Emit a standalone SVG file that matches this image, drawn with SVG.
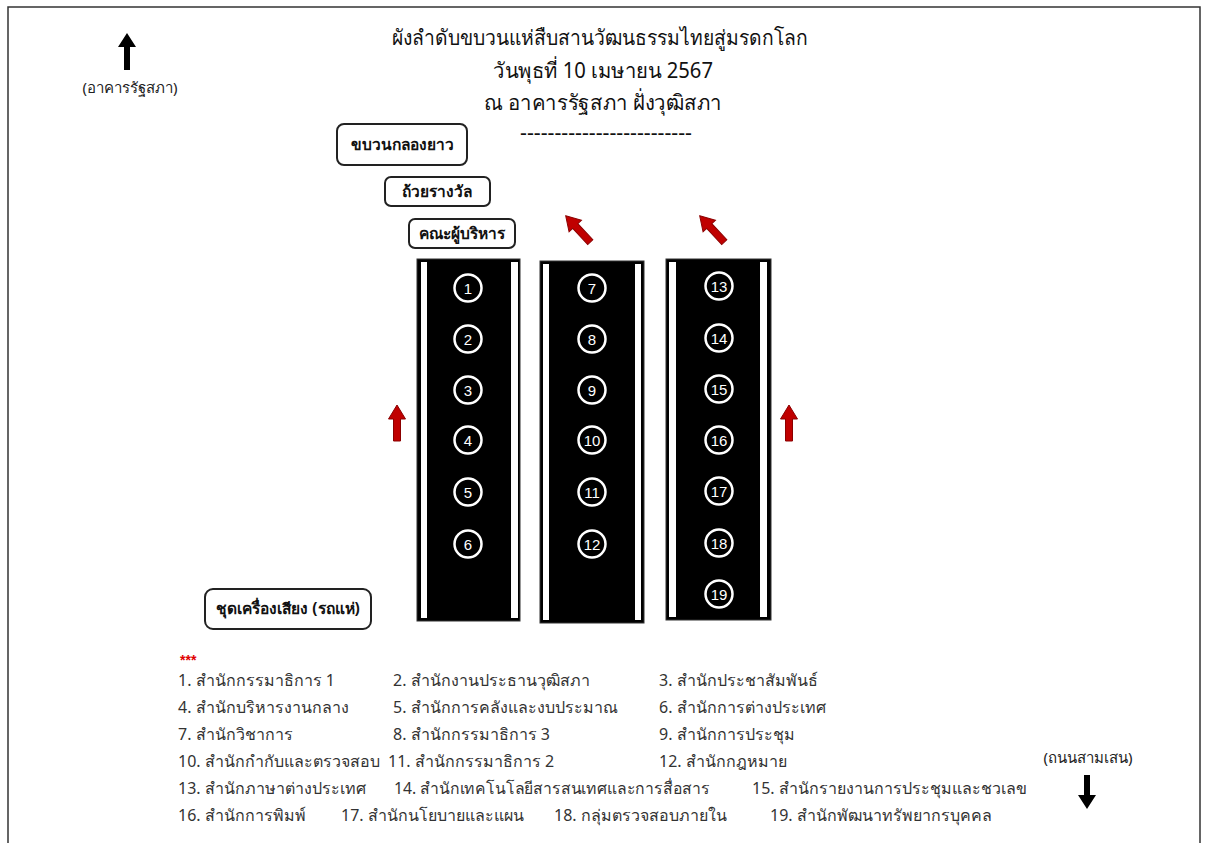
<svg xmlns="http://www.w3.org/2000/svg" xmlns:xlink="http://www.w3.org/1999/xlink" width="1208" height="843" viewBox="0 0 1208 843">
<style>
.title{font-family:"Noto Sans","DejaVu Sans",sans-serif;font-size:21px;fill:#111;text-anchor:middle}
.lbl{font-family:"Noto Sans","DejaVu Sans",sans-serif;font-size:15px;fill:#222;text-anchor:middle}
.box{fill:#fff;stroke:#222;stroke-width:2}
.boxt{font-family:"Noto Sans","DejaVu Sans",sans-serif;font-size:15.5px;font-weight:bold;fill:#111;text-anchor:middle}
.leg{font-family:"Noto Sans","DejaVu Sans",sans-serif;font-size:16px;fill:#333}
.col{fill:#000;stroke:#333;stroke-width:1}
.strip{fill:#fff}
.num circle{fill:none;stroke:#fff;stroke-width:2.5}
.num text{font-family:"Liberation Sans",Arial,sans-serif;font-size:15px;fill:#fff;text-anchor:middle}
.ra{fill:#c00000;stroke:#8b0000;stroke-width:1}
.ba{fill:#000}
</style>
<defs>
<path id="redArrow" d="M0,-18 L8.5,-4 L3.5,-4 L3.5,18 L-3.5,18 L-3.5,-4 L-8.5,-4 Z"/>
</defs>
<rect x="0" y="0" width="1208" height="843" fill="#fff"/>
<rect x="8" y="7" width="1192" height="842" fill="none" stroke="#333" stroke-width="1.5"/>

<g id="title">
<text class="title" x="600" y="45" textLength="416" lengthAdjust="spacingAndGlyphs">ผังลำดับขบวนแห่สืบสานวัฒนธรรมไทยสู่มรดกโลก</text>
<text class="title" x="603" y="78" textLength="220" lengthAdjust="spacingAndGlyphs">วันพุธที่ 10 เมษายน 2567</text>
<text class="title" x="603" y="110" textLength="238" lengthAdjust="spacingAndGlyphs">ณ อาคารรัฐสภา ฝั่งวุฒิสภา</text>
<text class="title" x="606" y="140" font-size="16" textLength="172" lengthAdjust="spacingAndGlyphs">-------------------------</text>
</g>

<g id="north">
<path class="ba" d="M124,47 L118,47 L127,33 L136,47 L130,47 L130,70 L124,70 Z"/>
<text class="lbl" x="130" y="93">(อาคารรัฐสภา)</text>
</g>
<g id="south">
<text class="lbl" x="1088" y="763">(ถนนสามเสน)</text>
<path class="ba" d="M1084,775 L1090,775 L1090,795 L1096,795 L1087,809 L1078,795 L1084,795 Z"/>
</g>

<g id="box-drums">
<rect class="box" x="337" y="124" width="130" height="41" rx="7"/>
<text class="boxt" x="402" y="150">ขบวนกลองยาว</text>
</g>
<g id="box-trophy">
<rect class="box" x="385" y="177" width="105" height="29" rx="6"/>
<text class="boxt" x="437" y="197">ถ้วยรางวัล</text>
</g>
<g id="box-exec">
<rect class="box" x="409" y="219" width="106" height="29" rx="6"/>
<text class="boxt" x="462" y="239">คณะผู้บริหาร</text>
</g>
<g id="box-sound">
<rect class="box" x="205" y="589" width="166" height="40" rx="8"/>
<text class="boxt" x="288" y="614">ชุดเครื่องเสียง (รถแห่)</text>
</g>

<g id="column-1">
<rect class="col" x="417" y="259" width="103" height="362"/>
<rect class="strip" x="421" y="262" width="6" height="356"/>
<rect class="strip" x="511" y="262" width="7" height="356"/>
<g class="num">
<circle cx="468" cy="288" r="13.5"/><text x="468" y="293.5">1</text>
<circle cx="468" cy="339" r="13.5"/><text x="468" y="344.5">2</text>
<circle cx="468" cy="390" r="13.5"/><text x="468" y="395.5">3</text>
<circle cx="468" cy="440" r="13.5"/><text x="468" y="445.5">4</text>
<circle cx="468" cy="492" r="13.5"/><text x="468" y="497.5">5</text>
<circle cx="468" cy="544" r="13.5"/><text x="468" y="549.5">6</text>
</g>
</g>

<g id="column-2">
<rect class="col" x="540" y="261" width="104" height="362"/>
<rect class="strip" x="543" y="264" width="6" height="356"/>
<rect class="strip" x="635" y="264" width="6" height="356"/>
<g class="num">
<circle cx="592" cy="288" r="13.5"/><text x="592" y="293.5">7</text>
<circle cx="592" cy="339" r="13.5"/><text x="592" y="344.5">8</text>
<circle cx="592" cy="390" r="13.5"/><text x="592" y="395.5">9</text>
<circle cx="592" cy="440" r="13.5"/><text x="592" y="445.5">10</text>
<circle cx="592" cy="492" r="13.5"/><text x="592" y="497.5">11</text>
<circle cx="592" cy="544" r="13.5"/><text x="592" y="549.5">12</text>
</g>
</g>

<g id="column-3">
<rect class="col" x="666" y="259" width="105" height="361"/>
<rect class="strip" x="669" y="262" width="7" height="355"/>
<rect class="strip" x="760" y="262" width="7" height="355"/>
<g class="num">
<circle cx="719" cy="286" r="13.5"/><text x="719" y="291.5">13</text>
<circle cx="719" cy="338" r="13.5"/><text x="719" y="343.5">14</text>
<circle cx="719" cy="389" r="13.5"/><text x="719" y="394.5">15</text>
<circle cx="719" cy="440" r="13.5"/><text x="719" y="445.5">16</text>
<circle cx="719" cy="491" r="13.5"/><text x="719" y="496.5">17</text>
<circle cx="719" cy="543" r="13.5"/><text x="719" y="548.5">18</text>
<circle cx="719" cy="594" r="13.5"/><text x="719" y="599.5">19</text>
</g>
</g>

<g id="connectors">
<use href="#redArrow" class="ra" transform="translate(397,423)"/>
<use href="#redArrow" class="ra" transform="translate(789,423)"/>
<use href="#redArrow" class="ra" transform="translate(578,229) rotate(-43)"/>
<use href="#redArrow" class="ra" transform="translate(712,229) rotate(-43)"/>
</g>

<g id="legend">
<text x="180" y="665" font-family="Liberation Sans,sans-serif" font-size="14" font-weight="bold" fill="#e00000">***</text>
<text class="leg" x="178" y="686">1. สำนักกรรมาธิการ 1</text>
<text class="leg" x="393" y="686">2. สำนักงานประธานวุฒิสภา</text>
<text class="leg" x="659" y="686">3. สำนักประชาสัมพันธ์</text>
<text class="leg" x="178" y="713">4. สำนักบริหารงานกลาง</text>
<text class="leg" x="393" y="713">5. สำนักการคลังและงบประมาณ</text>
<text class="leg" x="659" y="713">6. สำนักการต่างประเทศ</text>
<text class="leg" x="178" y="740">7. สำนักวิชาการ</text>
<text class="leg" x="393" y="740">8. สำนักกรรมาธิการ 3</text>
<text class="leg" x="659" y="740">9. สำนักการประชุม</text>
<text class="leg" x="178" y="767">10. สำนักกำกับและตรวจสอบ</text>
<text class="leg" x="388" y="767">11. สำนักกรรมาธิการ 2</text>
<text class="leg" x="659" y="767">12. สำนักกฎหมาย</text>
<text class="leg" x="178" y="794">13. สำนักภาษาต่างประเทศ</text>
<text class="leg" x="394" y="794" textLength="316" lengthAdjust="spacingAndGlyphs">14. สำนักเทคโนโลยีสารสนเทศและการสื่อสาร</text>
<text class="leg" x="752" y="794">15. สำนักรายงานการประชุมและชวเลข</text>
<text class="leg" x="178" y="821">16. สำนักการพิมพ์</text>
<text class="leg" x="341" y="821">17. สำนักนโยบายและแผน</text>
<text class="leg" x="554" y="821">18. กลุ่มตรวจสอบภายใน</text>
<text class="leg" x="770" y="821">19. สำนักพัฒนาทรัพยากรบุคคล</text>
</g>
</svg>
